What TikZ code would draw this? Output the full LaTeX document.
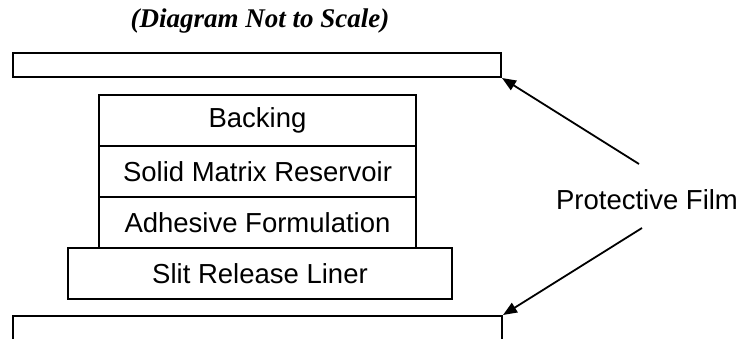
\documentclass[tikz,border=0pt]{standalone}
\usepackage{fontspec}
\setmainfont{Liberation Sans}
\newfontfamily\titlefont{Liberation Serif}
\usetikzlibrary{arrows.meta}
\begin{document}
\begin{tikzpicture}[x=1pt,y=-1pt,
  layer/.style={draw,line width=2pt,minimum height=51pt,inner sep=0pt,anchor=north west,font=\fontsize{27.5}{32}\selectfont},
  film/.style={draw,line width=2pt,inner sep=0pt,anchor=north west},
  pointer/.style={line width=1.8pt,-{Triangle[length=14pt,width=11pt]}}]
\useasboundingbox (0,0) rectangle (738,339);
\clip (0,0) rectangle (738,339);
\node[font=\titlefont\bfseries\itshape\fontsize{27}{32}\selectfont] (title) at (260,21) {(Diagram Not to Scale)};
\node[film,minimum width=488pt,minimum height=24pt] (top) at (12,52) {};
\node[film,minimum width=489pt,minimum height=30pt] (bot) at (12,315) {};
\node[layer,minimum width=317pt] (backing) at (98,94) {Backing};
\node[layer,minimum width=317pt] (res) at (98,145) {Solid Matrix Reservoir};
\node[layer,minimum width=317pt] (adh) at (98,196) {Adhesive Formulation};
\node[layer,minimum width=384pt] (slit) at (67,247) {Slit Release Liner};
\node[font=\fontsize{27.5}{32}\selectfont] (pf) at (647,200) {Protective Film};
\coordinate (ta) at (639,164);
\coordinate (ba) at (642,228);
\draw[pointer] (ta) -- (top.south east);
\draw[pointer] (ba) -- (bot.north east);
\end{tikzpicture}
\end{document}
